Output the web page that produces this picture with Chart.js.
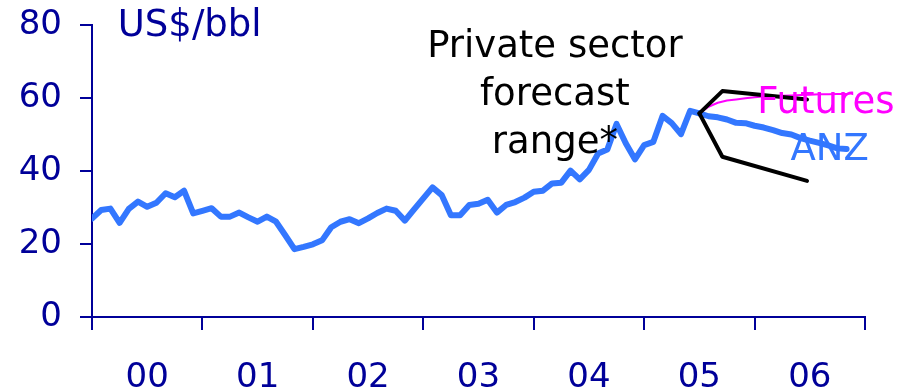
<!DOCTYPE html>
<html>
<head>
<meta charset="utf-8">
<script src="https://cdn.jsdelivr.net/npm/chart.js@4"></script>
<style>
  body { margin: 0; background: #fff; }
  #oilChart { display: block; }
</style>
</head>
<body>
<canvas id="oilChart" width="910" height="387"></canvas>
<script>
// monthly oil price, US$/bbl, from Jan 2000
const actual = [
  27.0, 29.3, 29.7, 25.8, 29.6, 31.6, 30.2, 31.3, 33.9, 32.8, 34.6, 28.4,
  29.1, 29.8, 27.5, 27.5, 28.6, 27.3, 26.1, 27.5, 26.1, 22.4, 18.6, 19.2,
  19.9, 21.0, 24.6, 26.1, 26.8, 25.7, 27.0, 28.5, 29.7, 29.1, 26.4, 29.5,
  32.5, 35.5, 33.4, 27.9, 27.9, 30.7, 31.0, 32.1, 28.6, 30.7, 31.5, 32.7,
  34.3, 34.6, 36.6, 36.8, 40.1, 37.7, 40.3, 44.8, 45.9, 52.9, 47.6, 43.2,
  47.1, 48.0, 55.1, 53.1, 50.1, 56.5, 55.8
];
// forecasts start from the last actual month
const forecastStart = 66;
const anz = [
  55.8, 55.0, 54.7, 54.1, 53.2, 53.1, 52.4, 51.9, 51.2, 50.4, 50.0, 49.0,
  48.3, 47.7, 47.0, 46.2, 46.0
];
const futures = [
  55.8, 57.6, 58.7, 59.3, 59.6, 59.9, 60.2, 60.4, 60.5, 60.6, 60.7, 60.8,
  60.9, 61.0, 61.0, 61.1, 61.1
];
// private sector forecast range
const rangeMonths = [66, 68.5, 77.7];
const rangeHigh = [55.8, 61.9, 59.6];
const rangeLow = [55.8, 43.9, 37.3];

const yearLabels = ["00", "01", "02", "03", "04", "05", "06"];
const yTicks = [0, 20, 40, 60, 80];

const navy = "#000099";
const blue = "#3377ff";
const magenta = "#ff00ff";
const axisFont = { family: "DejaVu Sans", size: 34 };

const pts = (vals, start) => vals.map((v, i) => ({ x: start + i, y: v }));
const pairs = (xs, ys) => ys.map((v, i) => ({ x: xs[i], y: v }));

// free text labels placed in data units
const notes = {
  id: "notes",
  afterDraw(chart) {
    const c = chart.ctx;
    const x = chart.scales.x, y = chart.scales.y;
    c.save();
    c.textBaseline = "middle";
    c.font = "37px 'DejaVu Sans'";
    c.fillStyle = navy;
    c.textAlign = "left";
    c.fillText("US$/bbl", x.getPixelForValue(2.8), y.getPixelForValue(79.5));

    c.fillStyle = "#000";
    c.textAlign = "center";
    const cx = x.getPixelForValue(50.3);
    c.fillText("Private sector", cx, y.getPixelForValue(73.9));
    c.fillText("forecast", cx, y.getPixelForValue(60.8));
    c.fillText("range*", cx, y.getPixelForValue(47.6));

    c.textAlign = "left";
    c.fillStyle = magenta;
    c.fillText("Futures", x.getPixelForValue(72.3), y.getPixelForValue(58.6));
    c.fillStyle = blue;
    c.fillText("ANZ", x.getPixelForValue(75.9), y.getPixelForValue(45.7));
    c.restore();
  }
};

new Chart(document.getElementById("oilChart"), {
  type: "line",
  data: {
    datasets: [
      {
        data: pairs(rangeMonths, rangeHigh),
        borderColor: "#000",
        borderWidth: 4,
        pointRadius: 0,
      },
      {
        data: pairs(rangeMonths, rangeLow),
        borderColor: "#000",
        borderWidth: 4,
        pointRadius: 0,
      },
      {
        data: pts(futures, forecastStart),
        borderColor: magenta,
        borderWidth: 2,
        pointRadius: 0,
      },
      {
        data: pts(anz, forecastStart),
        borderColor: blue,
        borderWidth: 6,
        pointRadius: 0,
      },
      {
        data: pts(actual, 0),
        borderColor: blue,
        borderWidth: 6,
        pointRadius: 0,
      },
    ],
  },
  options: {
    responsive: false,
    animation: false,
    layout: { padding: { top: 25, right: 45, left: 0, bottom: 0 } },
    plugins: { legend: { display: false }, tooltip: { enabled: false } },
    elements: { line: { tension: 0, borderJoinStyle: "round", borderCapStyle: "round" } },
    scales: {
      x: {
        type: "linear",
        min: 0,
        max: 84,
        afterBuildTicks: (s) => {
          s.ticks = yearLabels.concat([""]).map((_, i) => ({ value: i * 12 }));
        },
        ticks: { display: false },
        grid: { drawOnChartArea: false, tickLength: 13, color: navy, lineWidth: 2 },
        border: { color: navy, width: 2 },
      },
      years: {
        type: "linear",
        position: "bottom",
        min: 0,
        max: 84,
        afterBuildTicks: (s) => {
          s.ticks = yearLabels.map((_, i) => ({ value: i * 12 + 6 }));
        },
        afterFit: (s) => { s.height = 57; },
        ticks: {
          font: axisFont,
          color: navy,
          padding: 20,
          maxRotation: 0,
          callback: (v, i) => yearLabels[i],
        },
        grid: { display: false },
        border: { display: false },
      },
      y: {
        min: 0,
        max: 80,
        afterBuildTicks: (s) => {
          s.ticks = yTicks.map((v) => ({ value: v }));
        },
        afterFit: (s) => {
          s.width = 92;
          s.paddingTop = 0;
          s.paddingBottom = 0;
        },
        ticks: { font: axisFont, color: navy, padding: 18 },
        grid: { drawOnChartArea: false, tickLength: 12, color: navy, lineWidth: 2 },
        border: { color: navy, width: 2 },
      },
    },
  },
  plugins: [notes],
});
</script>
</body>
</html>
